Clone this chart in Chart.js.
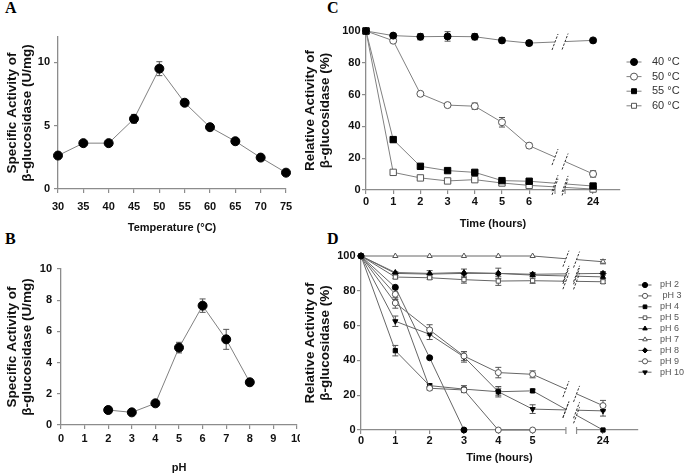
<!DOCTYPE html>
<html>
<head>
<meta charset="utf-8">
<script src="https://cdn.jsdelivr.net/npm/chart.js@4.4.1/dist/chart.umd.min.js"></script>
<style>
  body { margin: 0; background: #fff; width: 685px; height: 475px; position: relative; overflow: hidden; }
  .panel { position: absolute; overflow: hidden; }
  .letter { position: absolute; font: bold 16px "Liberation Serif", "Times New Roman", serif; line-height: 16px; color: #000; }
</style>
</head>
<body>
<div class="letter" style="left:5px;top:0px">A</div>
<div class="letter" style="left:327px;top:0px">C</div>
<div class="letter" style="left:5px;top:231px">B</div>
<div class="letter" style="left:327px;top:231px">D</div>

<div class="panel" style="left:0;top:0;width:300px;height:235px"><canvas id="chartA" width="300" height="235"></canvas></div>
<div class="panel" style="left:0;top:235px;width:300px;height:240px"><canvas id="chartB" width="340" height="240"></canvas></div>
<div class="panel" style="left:300px;top:0;width:385px;height:235px"><canvas id="chartC" width="385" height="235"></canvas></div>
<div class="panel" style="left:300px;top:235px;width:385px;height:240px"><canvas id="chartD" width="385" height="240"></canvas></div>

<script>
// ---- Panel A: activity vs temperature ----
const tempC = [30, 35, 40, 45, 50, 55, 60, 65, 70, 75];
const activityTemp = [2.64, 3.62, 3.62, 5.54, 9.5, 6.81, 4.88, 3.77, 2.48, 1.29];
const activityTempErr = [0.1, 0.1, 0.1, 0.35, 0.55, 0.2, 0.1, 0.1, 0.1, 0.1];

// ---- Panel B: activity vs pH ----
const phValues = [2, 3, 4, 5, 6, 7, 8];
const activityPh = [0.96, 0.81, 1.39, 4.96, 7.65, 5.49, 2.74];
const activityPhErr = [0.22, 0.1, 0.1, 0.34, 0.43, 0.64, 0.1];

// ---- Panel C: thermal stability (relative activity, %) ----
const hoursC = [0, 1, 2, 3, 4, 5, 6, 24];
const tempLabels = ['40 °C', '50 °C', '55 °C', '60 °C'];
const stab40 = [100, 97.1, 96.4, 96.6, 96.4, 94.1, 92.4, 94.1];
const stab50 = [100, 93.9, 60.5, 53.4, 52.7, 42.6, 27.9, 10.1];
const stab55 = [100, 31.7, 14.9, 12.2, 11.1, 5.9, 5.5, 2.5];
const stab60 = [100, 11.1, 7.6, 5.7, 6.5, 4.4, 2.9, 0.6];
const stab40Err = [0, 0.8, 2, 3, 2, 1.5, 1.5, 1];
const stab50Err = [0, 1, 1, 1, 2, 3, 1.5, 2];
const stab55Err = [0, 1.5, 1, 1, 1, 0.8, 0.8, 0.8];
const stab60Err = [0, 0.8, 0.8, 0.8, 0.8, 0.8, 0.8, 0.5];

// ---- Panel D: pH stability (relative activity, %) ----
const hoursD = [0, 1, 2, 3, 4, 5, 24];
const phLabels = ['pH 2', ' pH 3', 'pH 4', 'pH 5', 'pH 6', 'pH 7', 'pH 8', 'pH 9', 'pH 10'];
const phStab2 = [100, 82, 41.5, 0];
const phStab3 = [100, 78, 24, 23, 0, 0];
const phStab4 = [100, 45.6, 25.5, 23.5, 22, 22.5, 0];
const phStab5 = [100, 87.9, 87.5, 86.4, 85.6, 85.8, 85.2];
const phStab6 = [100, 90.5, 90, 90.5, 90, 89, 88];
const phStab7 = [100, 100, 100, 100, 100, 100, 96.7];
const phStab8 = [100, 90, 89.6, 90, 90, 89.5, 90];
const phStab9 = [100, 73, 57.5, 42.5, 33, 32, 14];
const phStab10 = [100, 62.5, 55, 42, 22, 12, 11];
const phStab3Err = [0, 3, 1, 1, 0, 0];
const phStab4Err = [0, 3, 1, 2, 3, 1, 0];
const phStab5Err = [0, 1, 1, 2, 2.5, 1.5, 1];
const phStab8Err = [0, 1, 2, 2.5, 3, 1, 1];
const phStab9Err = [0, 3, 3, 2.5, 3, 2, 3];
const phStab10Err = [0, 3, 3, 3, 2, 2.5, 3];
const phStab7Err = [0, 0, 0, 0, 0, 0, 1.2];

// axis break: hours after the last early reading are drawn at one far position
function breakPos(t, last, farPos) {
  return t <= last ? t : farPos;
}

const axisGray = '#8c8c8c';
Chart.defaults.font.family = '"Liberation Sans", Arial, sans-serif';
Chart.defaults.color = '#111';

// error bars drawn under the markers
const errorBars = {
  id: 'errorBars',
  beforeDatasetsDraw(chart) {
    const ctx = chart.ctx;
    const yScale = chart.scales.y;
    chart.data.datasets.forEach((ds, i) => {
      if (!ds.errors) return;
      const meta = chart.getDatasetMeta(i);
      ctx.save();
      ctx.strokeStyle = '#555';
      ctx.lineWidth = 1;
      meta.data.forEach((pt, j) => {
        const e = ds.errors[j];
        if (!e) return;
        const v = ds.data[j].y;
        const top = yScale.getPixelForValue(v + e);
        const bot = yScale.getPixelForValue(v - e);
        ctx.beginPath();
        ctx.moveTo(pt.x, top); ctx.lineTo(pt.x, bot);
        ctx.moveTo(pt.x - 3, top); ctx.lineTo(pt.x + 3, top);
        ctx.moveTo(pt.x - 3, bot); ctx.lineTo(pt.x + 3, bot);
        ctx.stroke();
      });
      ctx.restore();
    });
  }
};

// "/ /" break on the time axis
const axisBreak = {
  id: 'axisBreak',
  afterDatasetsDraw(chart, args, opts) {
    if (opts.from == null) return;
    const { ctx, chartArea } = chart;
    const x = chart.scales.x;
    const xa = x.getPixelForValue(opts.from);
    const xb = x.getPixelForValue(opts.to);
    ctx.save();
    ctx.fillStyle = '#fff';
    ctx.fillRect(xa, chartArea.top - 6, xb - xa, chartArea.bottom - chartArea.top + 8);
    ctx.strokeStyle = axisGray;
    ctx.lineWidth = 1.2;
    [xa, xb].forEach(px => {
      ctx.beginPath();
      ctx.moveTo(px, chartArea.bottom - 3);
      ctx.lineTo(px, chartArea.bottom + 4);
      ctx.stroke();
    });
    ctx.strokeStyle = '#333';
    ctx.lineWidth = 1;
    ctx.setLineDash([2.5, 1.5]);
    chart.data.datasets.forEach((ds, i) => {
      const pts = chart.getDatasetMeta(i).data;
      for (let k = 1; k < pts.length; k++) {
        const p0 = pts[k - 1], p1 = pts[k];
        if (p0.x < xa && p1.x > xb) {
          [xa, xb].forEach(px => {
            const py = p0.y + (p1.y - p0.y) * (px - p0.x) / (p1.x - p0.x);
            ctx.beginPath();
            ctx.moveTo(px - 3, py + 8);
            ctx.lineTo(px + 3, py - 8);
            ctx.stroke();
          });
        }
      }
    });
    ctx.restore();
  }
};

// legend with a short line through the marker (GraphPad style)
const sideLegend = {
  id: 'sideLegend',
  afterDraw(chart, args, opts) {
    if (opts.x == null) return;
    const ctx = chart.ctx;
    chart.data.datasets.forEach((ds, i) => {
      const y = opts.y + i * opts.step;
      ctx.save();
      ctx.strokeStyle = ds.borderColor;
      ctx.lineWidth = 1;
      ctx.beginPath();
      ctx.moveTo(opts.x - opts.lineHalf, y);
      ctx.lineTo(opts.x + opts.lineHalf, y);
      ctx.stroke();
      ctx.fillStyle = ds.pointBackgroundColor;
      ctx.strokeStyle = ds.pointBorderColor;
      ctx.lineWidth = 1;
      Chart.helpers.drawPoint(ctx, {
        pointStyle: ds.pointStyle,
        rotation: ds.pointRotation || 0,
        radius: opts.radius,
        borderWidth: 1
      }, opts.x, y);
      ctx.fillStyle = opts.textColor;
      ctx.font = opts.labelFont;
      ctx.textBaseline = 'middle';
      ctx.textAlign = 'left';
      ctx.fillText(ds.label, opts.textX, y);
      ctx.restore();
    });
  }
};

// shared axis look; axis box sizes are fixed so the plot areas line up
function xAxis(min, max, boxHeight, tickPad, titleText, titleBottom, tickValues, labelFn) {
  return {
    type: 'linear', min: min, max: max,
    afterFit: s => { s.height = boxHeight; },
    afterBuildTicks: s => { s.ticks = tickValues.map(v => ({ value: v })); },
    grid: { drawOnChartArea: false, drawTicks: true, tickLength: 4, color: axisGray, lineWidth: 1.2 },
    border: { color: axisGray, width: 1.3 },
    ticks: { padding: tickPad, maxRotation: 0, autoSkip: false, font: { size: 11, weight: 'bold' }, color: '#111',
             callback: labelFn || (v => v) },
    title: { display: true, text: titleText, font: { size: 11, weight: 'bold' }, color: '#111',
             padding: { top: 0, bottom: titleBottom } }
  };
}

function yAxis(max, tickValues, boxWidth, tickPad, titleLines, titleLeft) {
  return {
    min: 0, max: max,
    afterFit: s => { s.width = boxWidth; },
    afterBuildTicks: s => { s.ticks = tickValues.map(v => ({ value: v })); },
    grid: { drawOnChartArea: false, drawTicks: true, tickLength: 4, color: axisGray, lineWidth: 1.2 },
    border: { color: axisGray, width: 1.3 },
    ticks: { padding: tickPad, font: { size: 11, weight: 'bold' }, color: '#111' },
    title: { display: true, text: titleLines, font: { size: 13.5, weight: 'bold', lineHeight: 1.12 }, color: '#111',
             padding: { top: titleLeft, bottom: 0 } }
  };
}

function baseOptions(padding, scales, extraPlugins) {
  return {
    responsive: false,
    animation: false,
    layout: { padding: padding },
    plugins: Object.assign({ legend: { display: false }, tooltip: { enabled: false } }, extraPlugins || {}),
    scales: scales
  };
}

function series(xs, ys, errs, style) {
  return Object.assign({
    data: ys.map((v, i) => ({ x: xs[i], y: v })),
    errors: errs,
    borderColor: '#808080',
    borderWidth: 1,
    tension: 0,
    clip: false,
    pointBorderWidth: 1
  }, style);
}

const specTitle = ['Specific Activity of', 'β-glucosidase (U/mg)'];
const relTitle = ['Relative Activity of', 'β-glucosidase (%)'];
const filled = { pointBackgroundColor: '#000', pointBorderColor: '#000' };
const open = { pointBackgroundColor: '#fff', pointBorderColor: '#555' };

// Panel A
new Chart(document.getElementById('chartA'), {
  type: 'line',
  data: { datasets: [series(tempC, activityTemp, activityTempErr, Object.assign({ pointRadius: 4.5, pointStyle: 'circle' }, filled))] },
  options: baseOptions({ left: 0, right: 14, top: 37, bottom: 0 }, {
    x: xAxis(30, 75, 46, 7, 'Temperature (°C)', 0.4, tempC),
    y: yAxis(12, [0, 5, 10], 58, 4, specTitle, 4.6)
  }),
  plugins: [errorBars]
});

// Panel B
new Chart(document.getElementById('chartB'), {
  type: 'line',
  data: { datasets: [series(phValues, activityPh, activityPhErr, Object.assign({ pointRadius: 4.5, pointStyle: 'circle' }, filled))] },
  options: baseOptions({ left: 0, right: 43, top: 34, bottom: 0 }, {
    x: xAxis(0, 10, 50, 3, 'pH', 0.4, [0, 1, 2, 3, 4, 5, 6, 7, 8, 9, 10]),
    y: yAxis(10, [0, 2, 4, 6, 8, 10], 61, 5, specTitle, 4.6)
  }),
  plugins: [errorBars]
});

// Panel C
const farC = 8.35;
const posC = hoursC.map(t => breakPos(t, 6, farC));
const labelC = v => { const i = posC.indexOf(v); return i < 0 ? '' : hoursC[i]; };
new Chart(document.getElementById('chartC'), {
  type: 'line',
  data: { datasets: [
    series(posC, stab40, stab40Err, Object.assign({ label: tempLabels[0], pointStyle: 'circle', pointRadius: 3.5 }, filled)),
    series(posC, stab50, stab50Err, Object.assign({ label: tempLabels[1], pointStyle: 'circle', pointRadius: 3.5 }, open)),
    series(posC, stab55, stab55Err, Object.assign({ label: tempLabels[2], pointStyle: 'rect', pointRadius: 4.5 }, filled)),
    series(posC, stab60, stab60Err, Object.assign({ label: tempLabels[3], pointStyle: 'rect', pointRadius: 4.5 }, open))
  ] },
  options: baseOptions({ left: 0, right: 65, top: 31, bottom: 0 }, {
    x: xAxis(0, 9.34, 45, 1.4, 'Time (hours)', 4.4, posC, labelC),
    y: yAxis(100, [0, 20, 40, 60, 80, 100], 66, 1.5, relTitle, 2.9)
  }, {
    axisBreak: { from: 6.95, to: 7.32 },
    sideLegend: { x: 334, y: 62, step: 14.6, radius: 3.5, lineHalf: 7.5, textX: 352, textColor: '#333', labelFont: '11px "Liberation Sans", Arial, sans-serif' }
  }),
  plugins: [errorBars, axisBreak, sideLegend]
});

// Panel D
const farD = 7.05;
const posD = hoursD.map(t => breakPos(t, 5, farD));
const labelD = v => { const i = posD.indexOf(v); return i < 0 ? '' : hoursD[i]; };
const dLine = { borderColor: '#666', pointRadius: 3 };
new Chart(document.getElementById('chartD'), {
  type: 'line',
  data: { datasets: [
    series(posD, phStab2, null, Object.assign({ label: phLabels[0], pointStyle: 'circle' }, dLine, filled)),
    series(posD, phStab3, phStab3Err, Object.assign({ label: phLabels[1], pointStyle: 'circle' }, dLine, open)),
    series(posD, phStab4, phStab4Err, Object.assign({ label: phLabels[2], pointStyle: 'rect', pointRadius: 4 }, dLine, filled)),
    series(posD, phStab5, phStab5Err, Object.assign({ label: phLabels[3], pointStyle: 'rect', pointRadius: 4 }, dLine, open)),
    series(posD, phStab6, null, Object.assign({ label: phLabels[4], pointStyle: 'triangle' }, dLine, filled)),
    series(posD, phStab7, phStab7Err, Object.assign({ label: phLabels[5], pointStyle: 'triangle' }, dLine, open)),
    series(posD, phStab8, phStab8Err, Object.assign({ label: phLabels[6], pointStyle: 'rectRot' }, dLine, filled)),
    series(posD, phStab9, phStab9Err, Object.assign({ label: phLabels[7], pointStyle: 'circle' }, dLine, open)),
    series(posD, phStab10, phStab10Err, Object.assign({ label: phLabels[8], pointStyle: 'triangle', pointRotation: 180 }, dLine, filled))
  ] },
  options: baseOptions({ left: 0, right: 47, top: 21, bottom: 0 }, {
    x: xAxis(0, 8.07, 45, 0.4, 'Time (hours)', 10.4, posD, labelD),
    y: yAxis(100, [0, 20, 40, 60, 80, 100], 61, 1.5, relTitle, 2.9)
  }, {
    axisBreak: { from: 5.97, to: 6.28 },
    sideLegend: { x: 345, y: 50, step: 10.9, radius: 2.6, lineHalf: 6.5, textX: 360, textColor: '#555', labelFont: '9px "Liberation Sans", Arial, sans-serif' }
  }),
  plugins: [errorBars, axisBreak, sideLegend]
});
</script>
</body>
</html>
